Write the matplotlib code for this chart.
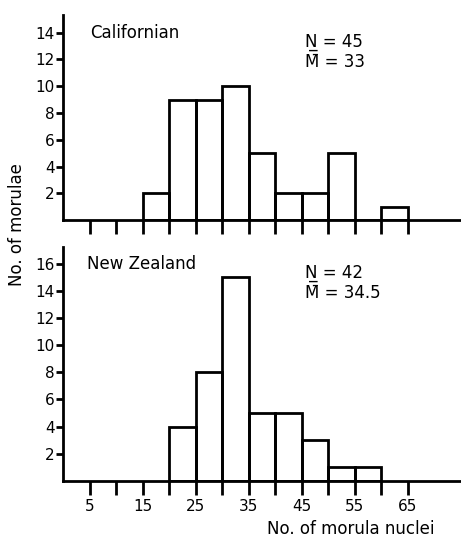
import matplotlib.pyplot as plt

# bin left edges (No. of morula nuclei) and counts
bin_edges = [15, 20, 25, 30, 35, 40, 45, 50, 55, 60]
californian = [2, 9, 9, 10, 5, 2, 2, 5, 0, 1]
nz_edges = [20, 25, 30, 35, 40, 45, 50, 55]
new_zealand = [4, 8, 15, 5, 5, 3, 1, 1]

x_ticks = [5, 10, 15, 20, 25, 30, 35, 40, 45, 50, 55, 60, 65]
x_labels = ['5', '', '15', '', '25', '', '35', '', '45', '', '55', '', '65']

plt.rcParams['font.family'] = ['DejaVu Sans']
fig = plt.figure(figsize=(4.61, 5.41), dpi=100)
ax1 = fig.add_axes([0.137, 0.593, 0.863, 0.379])
ax2 = fig.add_axes([0.137, 0.111, 0.863, 0.432])


def style(ax, ymax, yticks):
    ax.set_xlim(0, 75)
    ax.set_ylim(0, ymax)
    for s in ['top', 'right']:
        ax.spines[s].set_visible(False)
    ax.spines['left'].set_linewidth(2)
    ax.spines['bottom'].set_linewidth(2)
    ax.set_xticks(x_ticks)
    ax.set_yticks(yticks)
    ax.set_yticklabels([str(v) for v in yticks], fontsize=11)
    ax.tick_params(axis='x', direction='out', length=10, width=2, pad=3)
    ax.tick_params(axis='y', direction='out', length=5, width=2, pad=1)


ax1.bar(bin_edges, californian, width=5, align='edge', fill=False,
        edgecolor='black', linewidth=2)
style(ax1, 15.3, [2, 4, 6, 8, 10, 12, 14])
ax1.set_xticklabels([])
ax1.text(5, 14, 'Californian', fontsize=12, va='center')
ax1.text(45.5, 13.3, 'N\u0332 = 45', fontsize=12, va='center')
ax1.text(45.5, 11.8, 'M\u0304 = 33', fontsize=12, va='center')

ax2.bar(nz_edges, new_zealand, width=5, align='edge', fill=False,
        edgecolor='black', linewidth=2)
style(ax2, 17.2, [2, 4, 6, 8, 10, 12, 14, 16])
ax2.set_xticklabels(x_labels, fontsize=11)
ax2.text(4.5, 16.0, 'New Zealand', fontsize=12, va='center')
ax2.text(45.5, 15.3, 'N\u0332 = 42', fontsize=12, va='center')
ax2.text(45.5, 13.8, 'M\u0304 = 34.5', fontsize=12, va='center')

fig.text(0.76, 0.022, 'No. of morula nuclei', fontsize=12, ha='center', va='center')
fig.text(0.018, 0.585, 'No. of morulae', fontsize=12, rotation=90,
         ha='left', va='center')

fig.savefig('out.png', dpi=100)
